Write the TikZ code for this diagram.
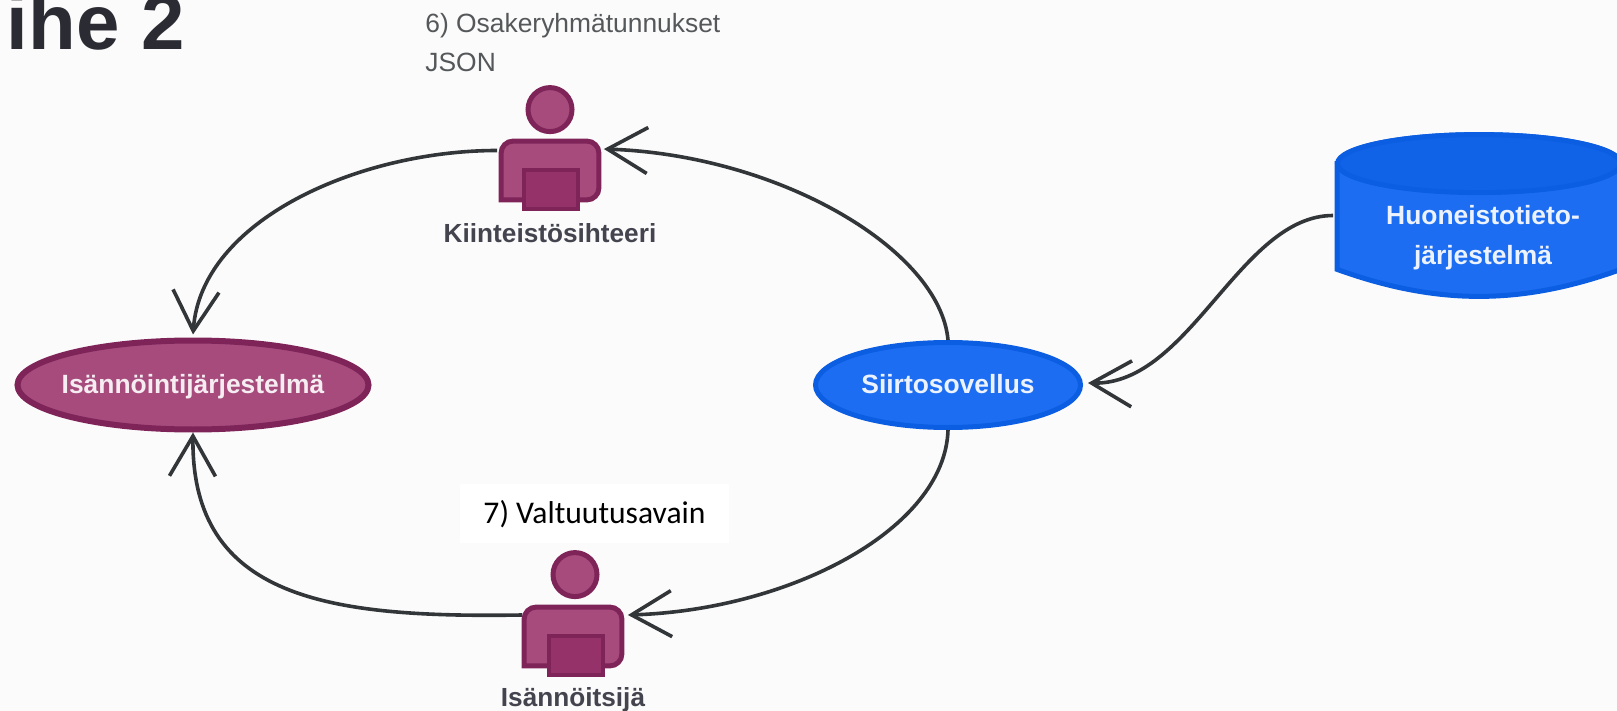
\documentclass[tikz,border=0pt]{standalone}
\usepackage{xcolor}
\usepackage{fontspec}
\setmainfont{Liberation Sans}
\newfontfamily\calibrifont{Carlito}
\usetikzlibrary{shapes.geometric,arrows.meta,positioning}
\definecolor{paper}{HTML}{FBFBFB}
\definecolor{plumfill}{HTML}{A64B7C}
\definecolor{plumline}{HTML}{7F2459}
\definecolor{plumdark}{HTML}{96326A}
\definecolor{bluefill}{HTML}{1C6DF2}
\definecolor{blueline}{HTML}{0B5EE2}
\definecolor{inkline}{HTML}{333638}
\definecolor{titleink}{HTML}{2B2C33}
\definecolor{labelink}{HTML}{44444F}
\definecolor{noteink}{HTML}{55585A}

\begin{document}
\begin{tikzpicture}[
        x=0.5pt, y=-0.5pt,
        system/.style={ellipse, draw=plumline, fill=plumfill, line width=3pt, inner sep=-8pt, minimum width=175.5pt, minimum height=44.5pt, text height=11.5pt, text depth=2.8pt, text=white!90!plumfill, font=\fontsize{13.2}{16}\selectfont\bfseries},
        transfer/.style={system, draw=blueline, fill=bluefill, line width=2.5pt, minimum width=132.5pt, minimum height=42.5pt, text=white!92!bluefill},
        database/.style={rectangle, inner sep=0pt, minimum width=141.5pt, minimum height=80.5pt},
        cylline/.style={draw=blueline, line width=2.5pt, fill=bluefill},
        bodybox/.style={rectangle, minimum width=48.5pt, minimum height=29pt, inner sep=0pt},
        personline/.style={draw=plumline, fill=plumfill, line width=2.5pt},
        head/.style={circle, personline, minimum size=22pt, inner sep=0pt},
        tray/.style={rectangle, draw=plumline, fill=plumdark, line width=2pt, minimum width=27pt, minimum height=19.5pt, inner sep=0pt},
        personlabel/.style={font=\fontsize{13.1}{16}\selectfont\bfseries, text=labelink, inner sep=0pt},
        arrow/.style={-{Straight Barb[length=20pt,width=23pt]}, draw=inkline, line width=1.8pt}
    ]
        % Page
        \useasboundingbox[fill=paper] (0,0) rectangle (1617,711);

        % Title
        \node[anchor=base east, font=\fontsize{39}{42}\selectfont\bfseries, text=titleink, inner sep=0pt] (title) at (185,50) {ihe 2};

        % Systems
        \node[system] (isannointi) at (193,385) {Isännöintijärjestelmä};
        \node[transfer] (siirto) at (948,385) {Siirtosovellus};

        % Database
        \node[database] (huoneisto) at (1479,215.5) {};
        \draw[cylline] ([yshift=-14.5pt]huoneisto.north west) -- ([yshift=13.5pt]huoneisto.south west) .. controls +(100,36) and +(-100,36) .. ([yshift=13.5pt]huoneisto.south east) -- ([yshift=-14.5pt]huoneisto.north east) arc[start angle=0, end angle=180, x radius=70.75pt, y radius=14.5pt] -- cycle;
        \draw[cylline, fill=blueline!70!bluefill] ([yshift=-14.5pt]huoneisto.north) ellipse[x radius=70.75pt, y radius=14.5pt];
        \node[align=center, text=white!92!bluefill, font=\fontsize{13.2}{20}\selectfont\bfseries, inner sep=0pt] (huoneistotext) at (1483,238) {Huoneistotieto-\\järjestelmä};

        % Kiinteistosihteeri
        \node[bodybox] (kbody) at (550,170.5) {};
        \draw[personline, rounded corners=6pt] (kbody.south west) -- (kbody.north west) -- (kbody.north east) -- (kbody.south east) [sharp corners] -- cycle;
        \node[head, above=3.5pt of kbody] (khead) {};
        \node[tray] (ktray) at (551,189.5) {};
        \node[personlabel, below=11.5pt of kbody] (klabel) {Kiinteistösihteeri};

        % Isannoitsija
        \node[bodybox] (ibody) at (573,636.5) {};
        \draw[personline, rounded corners=6pt] (ibody.south west) -- (ibody.north west) -- (ibody.north east) -- (ibody.south east) [sharp corners] -- cycle;
        \node[head, above=4pt of ibody, xshift=1pt] (ihead) {};
        \node[tray] (itray) at (575.5,655.5) {};
        \node[personlabel, below=10.5pt of ibody] (ilabel) {Isännöitsijä};

        % Notes
        \node[anchor=north west, align=left, text=noteink, font=\fontsize{13.2}{19.5}\selectfont, inner sep=0pt] (note) at (425,13) {6) Osakeryhmätunnukset\\JSON};
        \node[fill=white, text=black, font=\calibrifont\fontsize{15.8}{18}\selectfont, minimum width=134.5pt, minimum height=29.5pt, inner sep=0pt, text height=13pt, text depth=3pt] (key) at (594.5,513.5) {7) Valtuutusavain};

        % Arrows - Data Flow
        \draw[arrow] ([xshift=-2pt,yshift=10pt]kbody.west) .. controls +(-137,0) and +(8,-115) .. ([yshift=1.5pt]isannointi.north);
        \draw[arrow] (siirto.north) .. controls +(-8,-90) and +(176,6) .. ([xshift=2.5pt,yshift=10.75pt]kbody.east);
        \draw[arrow] (siirto.south) .. controls +(-3,99) and +(162,-5) .. ([xshift=3pt,yshift=10.75pt]ibody.east);
        \draw[arrow] ([xshift=-1pt,yshift=10.75pt]ibody.west) .. controls +(-192,3) and +(-2,167) .. (isannointi.south);
        \draw[arrow] ([xshift=-2pt]huoneisto.west) .. controls +(-93,0) and +(102,2) .. ([xshift=2.5pt,yshift=1pt]siirto.east);
    \end{tikzpicture}
\end{document}
